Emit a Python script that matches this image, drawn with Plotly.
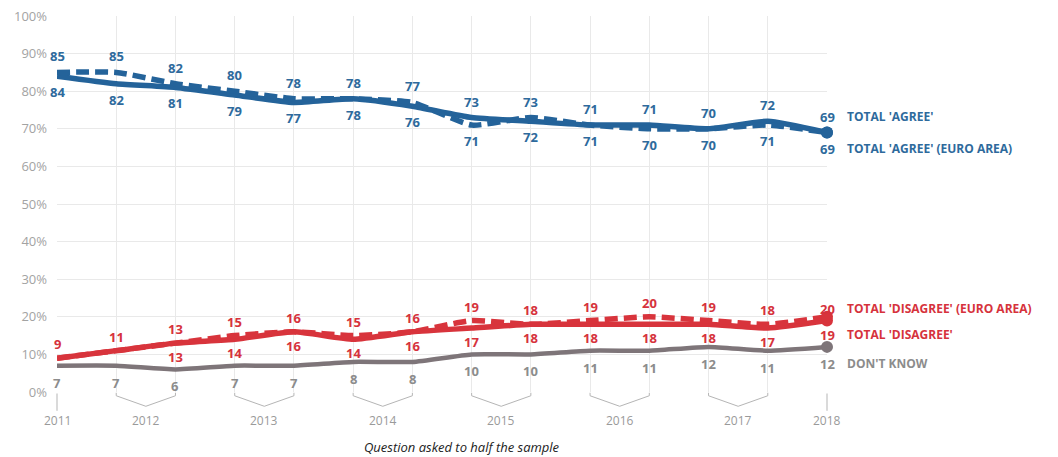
import plotly.graph_objects as go

# ---------------- data ----------------
points = list(range(14))
year_labels = ["2011", "2012", "2013", "2014", "2015", "2016", "2017", "2018"]
# year label placement: (first point index, last point index)
year_spans = [(0, 0), (1, 2), (3, 4), (5, 6), (7, 8), (9, 10), (11, 12), (13, 13)]

agree_total = [84, 82, 81, 79, 77, 78, 76, 73, 72, 71, 71, 70, 72, 69]
agree_euro = [85, 85, 82, 80, 78, 78, 77, 71, 73, 71, 70, 70, 71, 69]
disagree_total = [9, 11, 13, 14, 16, 14, 16, 17, 18, 18, 18, 18, 17, 19]
disagree_euro = [9, 11, 13, 15, 16, 15, 16, 19, 18, 19, 20, 19, 18, 20]
dont_know = [7, 7, 6, 7, 7, 8, 8, 10, 10, 11, 11, 12, 11, 12]

BLUE = "#24639a"
BLUE_T = "#2e6a9c"
RED = "#d8343c"
RED_T = "#d6323c"
GRAY = "#7e7579"
GRAY_T = "#8c8c8c"
FONT = "Open Sans"

fig = go.Figure()


def line(y, color, width, dash="solid"):
    sizes = [0] * (len(y) - 1) + [12]
    fig.add_trace(go.Scatter(
        x=points, y=y, mode="lines+markers",
        line=dict(color=color, width=width, dash=dash, shape="spline", smoothing=0.5),
        marker=dict(size=sizes, color=color, line=dict(width=0), opacity=1),
        cliponaxis=False, hoverinfo="skip", showlegend=False))


line(dont_know, GRAY, 4.5)
line(disagree_total, RED, 5.5)
line(disagree_euro, RED, 5.5, dash="13px,6px")
line(agree_total, BLUE, 5.5)
line(agree_euro, BLUE, 5.5, dash="13px,6px")

ann = []


def label(x, y, text, color, shift):
    ann.append(dict(x=x, y=y, xref="x", yref="y", text=f"<b>{text}</b>",
                    showarrow=False, yshift=shift, xanchor="center",
                    font=dict(family=FONT, size=13, color=color)))


for i in points:
    a, b = agree_total[i], agree_euro[i]
    label(i, max(a, b), max(a, b), BLUE_T, 16)
    label(i, min(a, b), min(a, b), BLUE_T, -16)
    a, b = disagree_total[i], disagree_euro[i]
    top_shift = 8 if i == points[-1] else 14
    label(i, max(a, b), max(a, b), RED_T, top_shift)
    if i >= 2:
        label(i, min(a, b), min(a, b), RED_T, -14)
    label(i, dont_know[i], dont_know[i], GRAY_T, -17)

# right-side series names
names = [
    (agree_total[-1], 16, "TOTAL 'AGREE'", BLUE_T),
    (agree_euro[-1], -16, "TOTAL 'AGREE' (EURO AREA)", BLUE_T),
    (disagree_euro[-1], 8, "TOTAL 'DISAGREE' (EURO AREA)", RED_T),
    (disagree_total[-1], -14, "TOTAL 'DISAGREE'", RED_T),
    (dont_know[-1], -17, "DON'T KNOW", GRAY_T),
]
for y, sh, txt, col in names:
    ann.append(dict(x=13, y=y, xref="x", yref="y", text=f"<b>{txt}</b>",
                    showarrow=False, xanchor="left", xshift=18, yshift=sh,
                    font=dict(family=FONT, size=12, color=col)))

# year labels and braces under the axis
shapes = []
n = len(points) - 1
BR = "#b5b5b5"
for lab, (i0, i1) in zip(year_labels, year_spans):
    x0, x1 = i0 / n, i1 / n
    xc = (x0 + x1) / 2
    if i0 == i1:
        shapes.append(dict(type="line", xref="paper", yref="paper",
                           x0=x0, x1=x0, y0=-0.004, y1=-0.05,
                           line=dict(color=BR, width=1)))
    else:
        path = (f"M {x0},-0.002 L {x0},-0.01 L {xc},-0.038 "
                f"L {x1},-0.01 L {x1},-0.002")
        shapes.append(dict(type="path", xref="paper", yref="paper", path=path,
                           line=dict(color=BR, width=1)))
    ann.append(dict(x=xc, y=-0.077, xref="paper", yref="paper", text=lab,
                    showarrow=False, xanchor="center", yanchor="middle",
                    font=dict(family=FONT, size=12, color="#9a9a9a")))

ann.append(dict(x=0.526, y=-0.146, xref="paper", yref="paper",
                text="<i>Question asked to half the sample</i>",
                showarrow=False, xanchor="center", yanchor="middle",
                font=dict(family=FONT, size=13, color="#222222")))

# the page body adds an 8px offset; compensate in the figure size/margins
fig.update_layout(
    width=1050, height=449,
    margin=dict(l=49, r=231, t=8, b=65, autoexpand=False),
    paper_bgcolor="white", plot_bgcolor="white",
    annotations=ann, shapes=shapes,
    xaxis=dict(range=[0, 13], tickmode="linear", tick0=0, dtick=1,
               showticklabels=False, showgrid=True, gridcolor="#e9e9e9",
               gridwidth=1, zeroline=False, showline=False, fixedrange=True,
               automargin=False),
    yaxis=dict(range=[0, 100], tickmode="linear", tick0=0, dtick=10,
               ticksuffix="%", showgrid=True, gridcolor="#e9e9e9",
               zeroline=False, showline=False, ticklabeloverflow="allow",
               automargin=False,
               tickfont=dict(family=FONT, size=13, color="#a3a3a3"),
               ticklabelstandoff=9),
)

fig.write_html("out.html")
